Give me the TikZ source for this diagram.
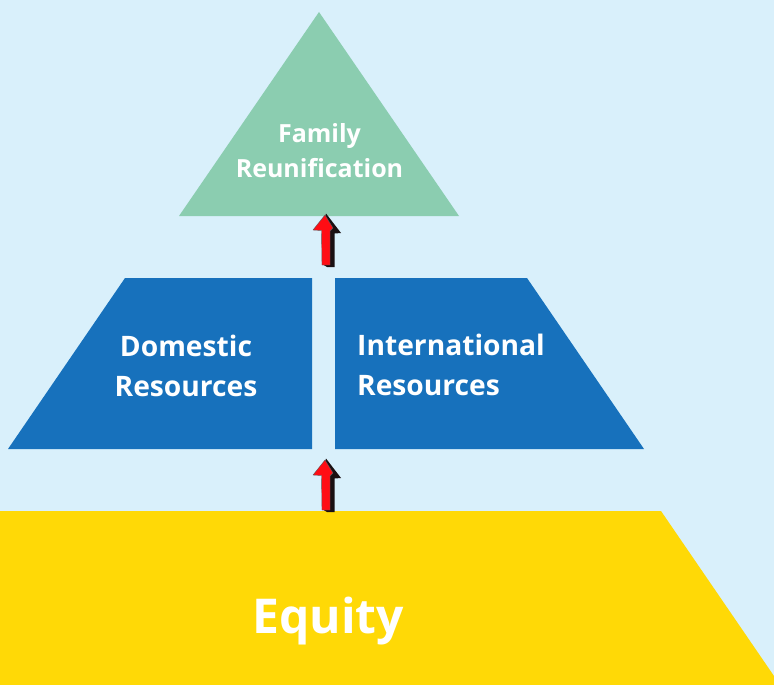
\documentclass[tikz,border=0pt]{standalone}
\usepackage{fontspec}
\setmainfont{Open Sans}
\definecolor{bgc}{HTML}{D9F0FB}
\definecolor{greenc}{HTML}{8BCDB0}
\definecolor{bluec}{HTML}{1771BC}
\definecolor{yellowc}{HTML}{FFD906}
\definecolor{redc}{HTML}{FF0D14}
\definecolor{darkc}{HTML}{1A1012}
\newcommand{\blockarrow}[2]{%
  \begin{scope}[shift={(#1,#2)}]
    \fill[darkc] (1,-1.5) -- (16,18) -- (9.5,18.5) -- (9.5,52) -- (2,52) -- (-3,49) -- (-3,12) -- cycle;
    \fill[redc, draw=darkc!70, line width=0.4pt, line join=round] (0,0) -- (8,13) -- (5,16) -- (5,50) -- (-3,50) -- (-3.5,15.5) -- (-12,15) -- cycle;
  \end{scope}}
\tikzset{
  lab/.style={text=white, inner sep=0pt, align=center, font=\bfseries},
  smalllab/.style={lab, font=\bfseries\fontsize{25}{35}\selectfont},
  midlab/.style={lab, font=\bfseries\fontsize{28.2}{40}\selectfont},
  biglab/.style={lab, font=\bfseries\fontsize{48}{54}\selectfont}
}
\begin{document}
\begin{tikzpicture}[x=1pt,y=-1pt]
\useasboundingbox (0,0) rectangle (774,685);
\fill[bgc] (0,0) rectangle (774,685);
\fill[greenc] (319,12) -- (459,216) -- (179,216) -- cycle;
\fill[bluec] (125,278) -- (312,278) -- (312,449) -- (8,449) -- cycle;
\fill[bluec] (335,278) -- (527,278) -- (644,449) -- (335,449) -- cycle;
\fill[yellowc] (0,511) -- (661,511) -- (774,676) -- (774,685) -- (0,685) -- cycle;
\blockarrow{325}{215}
\blockarrow{325}{460}
\node[smalllab] (fam) at (319.5,151) {Family\\Reunification};
\node[midlab] (dom) at (186,365.5) {Domestic\\Resources};
\node[midlab, align=left] (intl) at (451,364.5) {International\\Resources};
\node[biglab] (eq) at (328,621) {Equity};
\end{tikzpicture}
\end{document}
